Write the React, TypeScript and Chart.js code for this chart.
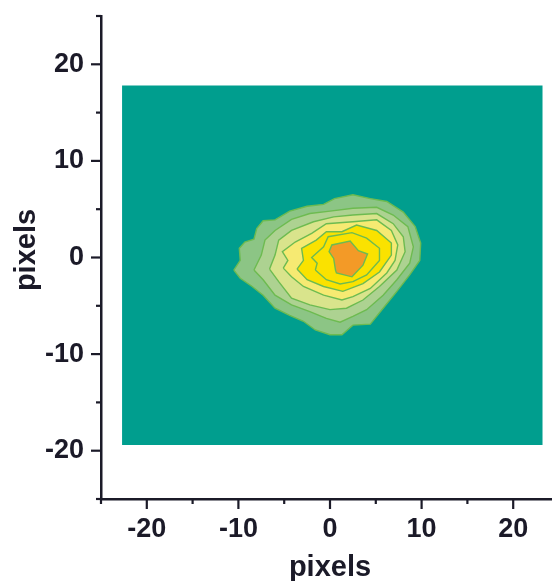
import React, { useEffect, useRef } from "react";
import { Chart, registerables } from "chart.js";

Chart.register(...registerables);

const backgroundX = [-22.7, 23.2, 23.2, -22.7, -22.7];
const backgroundY = [17.8, 17.8, -19.4, -19.4, 17.8];

const level1X = [-10.5,-9.8,-9.9,-9.3,-8.3,-8.0,-7.3,-6.0,-4.4,-2.5,-0.7,0.5,2.5,4.4,6.2,8.0,9.3,9.9,9.8,8.7,7.3,5.8,4.4,2.5,1.3,0,-1.6,-2.9,-4.4,-6.0,-7.3,-8.5,-9.8,-10.5];
const level1Y = [-1.3,-0.3,0.95,1.6,1.9,3.0,3.8,3.9,4.8,5.3,5.5,6.1,6.5,6.1,5.8,4.7,3.2,1.5,-0.3,-1.8,-3.5,-5.25,-6.9,-7.0,-8.0,-8.0,-7.5,-6.6,-6.0,-5.25,-3.9,-3.0,-2.15,-1.3];

const level2X = [-8.3,-7.5,-7.1,-6,-4.2,-2.2,0,2.5,5.1,6.9,8.5,9.1,8.7,7.3,5.8,4,2.5,1.1,-0.4,-2.2,-4.2,-6,-7.3,-8.3];
const level2Y = [-1.3,0.25,1.8,2.8,3.95,4.55,4.8,5.1,5.2,4.4,3.2,1.1,-0.6,-2.3,-3.9,-5.4,-6.1,-6.7,-6.3,-5.6,-4.9,-3.9,-2.3,-1.3];

const level3X = [-6.6,-6,-5.6,-4.2,-1.8,0.4,2.5,5.1,6.9,8,8.2,7.3,5.4,3.6,1.8,0,-2.2,-4.2,-5.6,-6.6];
const level3Y = [-1.2,0.25,1.8,2.8,3.7,4.2,4.4,4.55,3.5,2.15,0.6,-1.3,-3,-4.4,-5.25,-5.4,-4.9,-4.2,-2.5,-1.2];

const level4X = [-5.1,-4.6,-5.2,-3.8,-2,-0.4,2.5,5.1,6.7,7.4,7.1,6.2,4.4,2.5,1.3,-0.7,-2.9,-4.2,-5.1];
const level4Y = [-1.1,-0.3,0.6,1.6,2.5,3.5,3.7,3.9,2.8,1.3,-0.3,-1.6,-3.2,-4.05,-4.4,-3.9,-3,-2,-1.1];

const level5X = [-3.6,-2.9,-3.1,-1.5,-0.4,1.3,2.9,5.1,6.7,6.7,5.4,3.6,1.4,-0.7,-2.5,-3.6];
const level5Y = [-1.2,-0.3,0.95,1.8,2.67,2.67,3.36,2.8,1.5,0.25,-1.5,-2.7,-3.5,-3,-2.3,-1.2];

const level6X = [-1.6,-1.4,-2,-0.7,-0.2,2.4,4,5.4,5.4,4,2.5,1.1,-0.4,-1.6];
const level6Y = [-1.3,-0.6,0,1.1,2.15,2.57,2,0.95,-0.3,-1.8,-2.5,-2.74,-2.3,-1.3];

const level7X = [0.6,0.4,-0.1,0.2,2.2,3.1,4.1,3.6,2.4,0.7,0.6];
const level7Y = [-1.3,-0.1,0.6,1.3,1.7,0.7,0.36,-0.8,-2,-1.6,-1.3];

const levels: [number[], number[], string][] = [
  [level1X, level1Y, "#8cc585"],
  [level2X, level2Y, "#add291"],
  [level3X, level3Y, "#d9e48c"],
  [level4X, level4Y, "#f6ea72"],
  [level5X, level5Y, "#fae200"],
  [level6X, level6Y, "#fae200"],
  [level7X, level7Y, "#f39a27"],
];

const toPoints = (xs: number[], ys: number[]) => xs.map((x, i) => ({ x, y: ys[i] }));

const INK = "#1b1a28";
const FONT = "'Liberation Sans', Arial, sans-serif";
const yTitleText = "pixels";

const tickMarks = {
  id: "tickMarks",
  afterDatasetsDraw(chart: any) {
    const { ctx, scales, chartArea } = chart;
    ctx.save();
    ctx.strokeStyle = INK;
    ctx.lineWidth = 2.2;
    for (const t of scales.x.ticks) {
      const p = scales.x.getPixelForValue(t.value);
      const len = t.value % 10 === 0 ? 10 : 5;
      ctx.beginPath();
      ctx.moveTo(p, chartArea.bottom);
      ctx.lineTo(p, chartArea.bottom + len);
      ctx.stroke();
    }
    for (const t of scales.y.ticks) {
      const p = scales.y.getPixelForValue(t.value);
      const len = t.value % 10 === 0 ? 10 : 5;
      ctx.beginPath();
      ctx.moveTo(chartArea.left, p);
      ctx.lineTo(chartArea.left - len, p);
      ctx.stroke();
    }
    ctx.translate(27, 250);
    ctx.rotate(-Math.PI / 2);
    ctx.fillStyle = INK;
    ctx.font = `bold 29px ${FONT}`;
    ctx.textAlign = "center";
    ctx.textBaseline = "middle";
    ctx.fillText(yTitleText, 0, 0);
    ctx.restore();
  },
};

const axisLabel = (v: any) => (Number(v) % 10 === 0 ? String(v) : "");

export default function App() {
  const ref = useRef<HTMLCanvasElement>(null);
  useEffect(() => {
    const chart = new Chart(ref.current!, {
      type: "scatter",
      data: {
        datasets: [
          {
            data: toPoints(backgroundX, backgroundY),
            order: 100,
            showLine: true,
            fill: "shape",
            backgroundColor: "#009e8e",
            borderWidth: 0,
            pointRadius: 0,
            tension: 0,
          },
          ...levels.map(([xs, ys, color], i) => ({
            data: toPoints(xs, ys),
            order: 50 - i,
            showLine: true,
            fill: "shape",
            backgroundColor: color,
            borderColor: "#6dbb50",
            borderWidth: 1.4,
            pointRadius: 0,
            tension: 0,
          })),
        ],
      } as any,
      options: {
        animation: false,
        responsive: false,
        layout: { padding: { top: 16, right: 21, left: 0, bottom: 0 } },
        plugins: {
          legend: { display: false },
          tooltip: { enabled: false },
          filler: { drawTime: "beforeDatasetDraw" },
        },
        scales: {
          x: {
            type: "linear",
            min: -25,
            max: 25,
            afterFit: (s: any) => { s.height = 82; s.paddingLeft = 0; s.paddingRight = 0; },
            grid: { display: false, drawTicks: false },
            border: { display: true, color: INK, width: 2.5 },
            ticks: {
              stepSize: 5,
              autoSkip: false,
              maxRotation: 0,
              padding: 14,
              color: INK,
              font: { family: FONT, size: 27, weight: "bold" },
              callback: axisLabel,
            },
            title: {
              display: true,
              text: "pixels",
              color: INK,
              padding: { top: 0, bottom: -4 },
              font: { family: FONT, size: 29, weight: "bold" },
            },
          },
          y: {
            type: "linear",
            min: -25,
            max: 25,
            afterFit: (s: any) => { s.width = 101; s.paddingTop = 0; s.paddingBottom = 0; },
            grid: { display: false, drawTicks: false },
            border: { display: true, color: INK, width: 2.5 },
            ticks: {
              stepSize: 5,
              autoSkip: false,
              padding: 17,
              color: INK,
              font: { family: FONT, size: 27, weight: "bold" },
              callback: axisLabel,
            },
          },
        },
      } as any,
      plugins: [tickMarks],
    });
    return () => chart.destroy();
  }, []);
  return (
    <div style={{ position: "fixed", left: 0, top: 0, width: 552, height: 581, overflow: "hidden", background: "#fff" }}>
      <canvas ref={ref} width={580} height={581} style={{ display: "block" }} />
    </div>
  );
}
